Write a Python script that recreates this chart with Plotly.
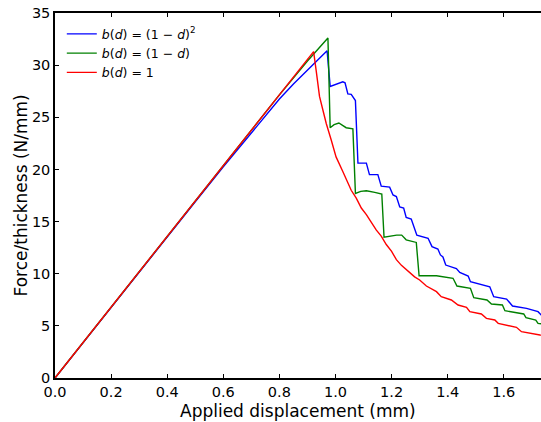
import plotly.graph_objects as go

# b(d) = (1-d)^2  (blue)
blue_x = [0.0, 0.1, 0.2, 0.3, 0.4, 0.5, 0.6, 0.7, 0.75, 0.8, 0.85, 0.9, 0.93, 0.95, 0.97,
          0.981, 0.995, 1.01, 1.026, 1.034, 1.044, 1.056, 1.065, 1.071, 1.08,
          1.11, 1.121, 1.151, 1.163, 1.193, 1.205, 1.217, 1.229, 1.243, 1.252, 1.27,
          1.29, 1.33, 1.344, 1.365, 1.374, 1.383, 1.393, 1.431, 1.443, 1.473, 1.481,
          1.514, 1.55, 1.564, 1.61, 1.631, 1.681, 1.722, 1.735]
blue_y = [0.0, 3.4, 6.8, 10.2, 13.55, 16.9, 20.25, 23.5, 25.15, 26.75, 28.2, 29.55, 30.33, 30.86, 31.38,
          27.96, 28.1, 28.3, 28.4, 28.3, 27.25, 27.2, 26.9, 26.6, 20.6,
          20.6, 19.5, 19.5, 18.4, 18.3, 17.55, 17.4, 16.4, 16.3, 15.4, 15.25,
          13.7, 13.4, 12.6, 12.37, 11.8, 11.6, 10.83, 10.5, 10.13, 9.78, 9.23,
          9.0, 8.75, 7.8, 7.57, 6.9, 6.68, 6.36, 6.0]

# b(d) = (1-d)  (green)
green_x = [0.0, 0.1, 0.2, 0.3, 0.4, 0.5, 0.6, 0.7, 0.8, 0.9, 0.95, 0.973,
           0.981, 0.995, 1.012, 1.025, 1.038, 1.062, 1.071, 1.09, 1.11, 1.14, 1.165,
           1.173, 1.19, 1.218, 1.236, 1.252, 1.288, 1.298, 1.36, 1.419, 1.433, 1.481,
           1.493, 1.54, 1.556, 1.595, 1.604, 1.621, 1.671, 1.679, 1.714, 1.722, 1.735]
green_y = [0.0, 3.4, 6.8, 10.2, 13.6, 17.0, 20.4, 23.8, 27.15, 30.4, 31.85, 32.6,
           24.0, 24.3, 24.45, 24.2, 24.0, 23.9, 17.7, 17.9, 17.95, 17.8, 17.64,
           13.5, 13.6, 13.7, 13.7, 13.25, 13.0, 9.8, 9.81, 9.56, 8.82, 8.6,
           7.7, 7.48, 7.1, 7.0, 6.45, 6.36, 6.14, 5.78, 5.56, 5.24, 5.2]

# b(d) = 1  (red)
red_x = [0.0, 0.1, 0.2, 0.3, 0.4, 0.5, 0.6, 0.7, 0.8, 0.9, 0.922,
         0.931, 0.943, 0.955, 0.967, 0.985, 1.002, 1.026, 1.044, 1.056, 1.074, 1.092,
         1.11, 1.128, 1.145, 1.163, 1.181, 1.2, 1.217, 1.235, 1.252, 1.27, 1.282, 1.3,
         1.324, 1.36, 1.377, 1.413, 1.437, 1.467, 1.479, 1.52, 1.538, 1.568, 1.58,
         1.645, 1.663, 1.729, 1.735]
red_y = [0.0, 3.4, 6.8, 10.2, 13.6, 17.0, 20.4, 23.8, 27.2, 30.6, 31.3,
         29.5, 27.0, 25.7, 24.4, 22.8, 21.2, 19.8, 18.8, 18.0, 17.25, 16.3,
         15.66, 14.86, 14.2, 13.6, 12.8, 12.14, 11.35, 10.8, 10.4, 10.0, 9.7, 9.4,
         8.82, 8.28, 7.8, 7.48, 7.0, 6.78, 6.36, 6.14, 5.72, 5.56, 5.24,
         4.86, 4.44, 4.12, 4.1]

x_ticks = [0.0, 0.2, 0.4, 0.6, 0.8, 1.0, 1.2, 1.4, 1.6]
y_ticks = [0, 5, 10, 15, 20, 25, 30, 35]
x_title = "Applied displacement (mm)"
y_title = "Force/thickness (N/mm)"

names = ["<i>b</i>(<i>d</i>) = (1 − <i>d</i>)<sup>2</sup>",
         "<i>b</i>(<i>d</i>) = (1 − <i>d</i>)",
         "<i>b</i>(<i>d</i>) = 1"]

fig = go.Figure()
for xs, ys, c, n in [(blue_x, blue_y, "#0000ff", names[0]),
                     (green_x, green_y, "#008000", names[1]),
                     (red_x, red_y, "#ff0000", names[2])]:
    fig.add_trace(go.Scatter(x=xs, y=ys, mode="lines", name=n,
                             line=dict(color=c, width=1.4)))

font = "DejaVu Sans"
fig.update_layout(
    width=541, height=422,
    margin=dict(l=55, r=0, t=13, b=44),
    paper_bgcolor="white", plot_bgcolor="white",
    font=dict(family=font, color="black", size=14.5),
    showlegend=True,
    legend=dict(x=0.014, y=0.983, xanchor="left", yanchor="top",
                bgcolor="rgba(0,0,0,0)", borderwidth=0,
                font=dict(size=12.5, family=font), tracegroupgap=0,
                itemwidth=30),
    xaxis=dict(range=[0, 1.7326], tickvals=x_ticks, tickformat=".1f",
               showgrid=False, zeroline=False, showline=True, linecolor="black",
               linewidth=1.5, mirror="ticks", ticks="inside", ticklen=4,
               tickcolor="black", tickfont=dict(size=14.5), automargin=False),
    yaxis=dict(range=[0, 35], tickvals=y_ticks, showgrid=False, zeroline=False,
               showline=True, linecolor="black", linewidth=1.5, mirror=False,
               ticks="inside", ticklen=4, tickcolor="black",
               tickfont=dict(size=14.5), automargin=False),
    annotations=[
        dict(text=x_title, xref="paper", yref="paper", x=0.5, y=-0.091,
             xanchor="center", yanchor="middle", showarrow=False,
             font=dict(size=17, family=font)),
        dict(text=y_title, xref="paper", yref="paper", x=-0.072, y=0.5,
             xanchor="center", yanchor="middle", showarrow=False, textangle=-90,
             font=dict(size=17, family=font)),
    ],
)

fig.write_html("out.html", config={"displayModeBar": False},
               post_script="document.body.style.margin='0';document.body.style.overflow='hidden';")
